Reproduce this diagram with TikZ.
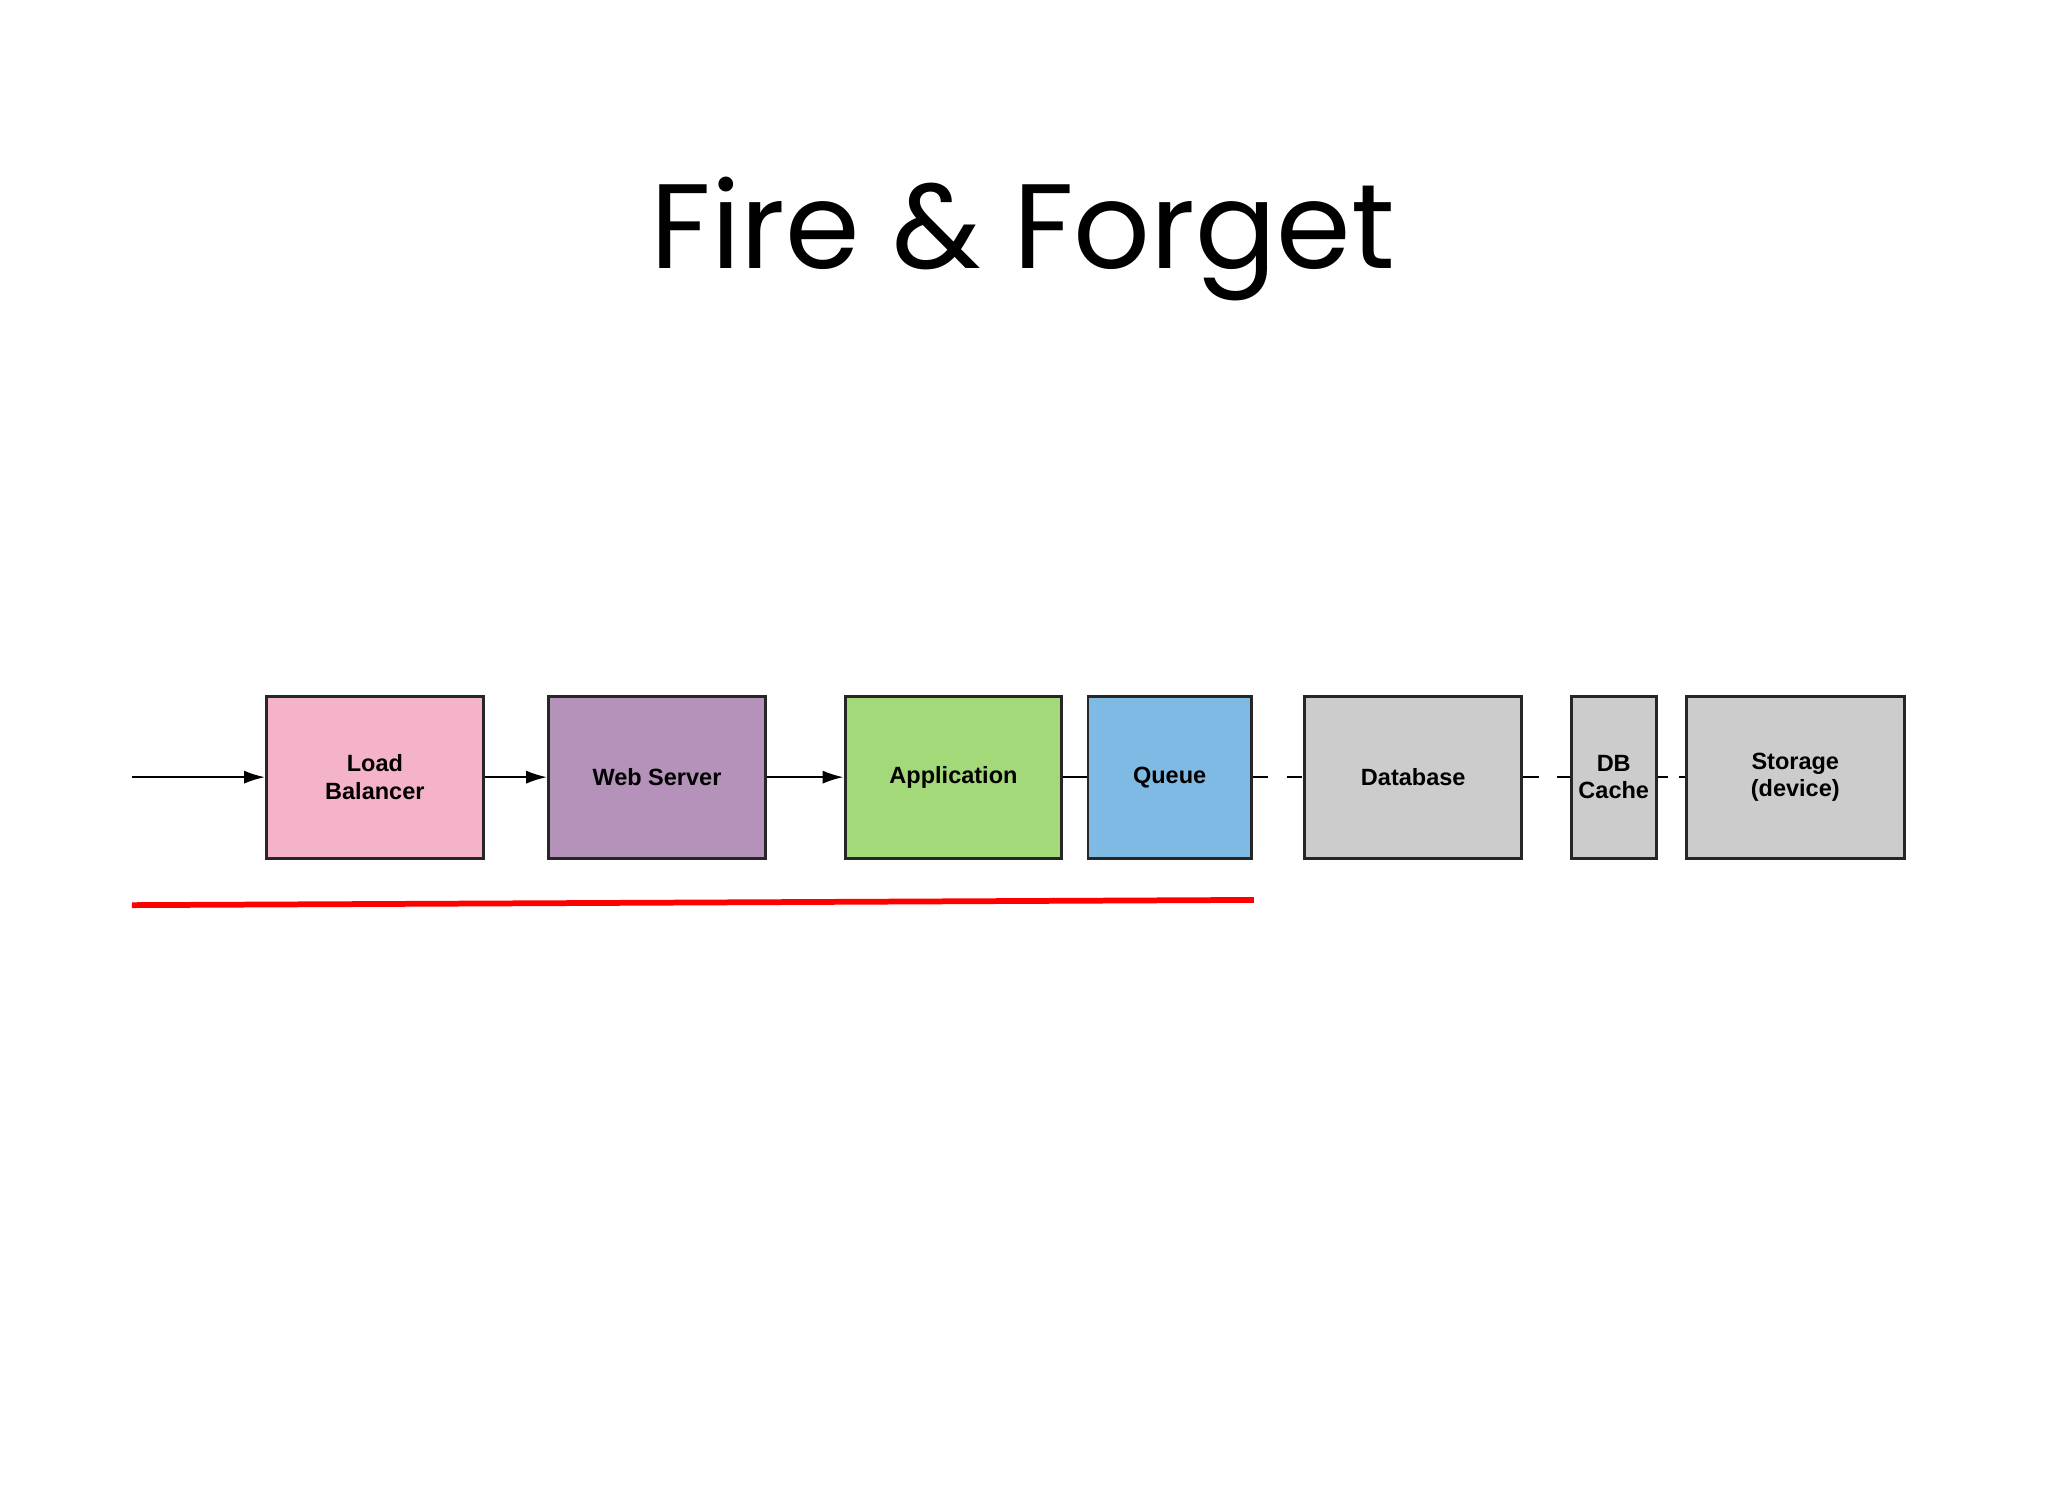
\documentclass[tikz,border=0pt]{standalone}
\usepackage{fontspec}
\setmainfont{Liberation Sans}
\newfontfamily\titlefont{Poppins}
\usetikzlibrary{arrows.meta}
\definecolor{cpink}{HTML}{F5B3CA}
\definecolor{cpurple}{HTML}{B492B9}
\definecolor{cgreen}{HTML}{A3D978}
\definecolor{cblue}{HTML}{7FBAE5}
\definecolor{cgray}{HTML}{CCCCCC}
\begin{document}
\begin{tikzpicture}[x=0.5pt,y=-0.5pt,
  box/.style={draw=black!85,line width=1.1pt,inner sep=0pt,font=\bfseries\fontsize{9}{10.5}\selectfont,align=center},
  conn/.style={line width=0.8pt},
  arr/.style={conn,-{Latex[length=8pt,width=5pt]}}]
\useasboundingbox (0,0) rectangle (1568,1144);
\node[font=\titlefont\fontsize{46}{50}\selectfont] (title) at (783,183) {Fire \& Forget};
\def\mk#1#2#3#4#5{\node[box,fill=#4,minimum width={(#3-#2)*0.5pt},minimum height=62pt] (#1) at ({(#2+#3)/2},595) {#5};}
\mk{lb}{204}{370}{cpink}{Load\\Balancer}
\mk{ws}{420}{586}{cpurple}{Web Server}
\mk{app}{647}{813}{cgreen}{Application}
\mk{q}{833}{958}{cblue}{Queue}
\mk{db}{999}{1165}{cgray}{Database}
\mk{dbc}{1203}{1268}{cgray}{DB\\Cache}
\mk{st}{1291}{1458}{cgray}{Storage\\(device)}
\coordinate (in) at (101,595);
\draw[arr] (in) -- (lb);
\draw[arr] (lb) -- (ws);
\draw[arr] (ws) -- (app);
\draw[conn] (app) -- (q);
\draw[conn,dash pattern=on 6pt off 7pt] (q) -- (db);
\draw[conn,dash pattern=on 6pt off 7pt] (db) -- (dbc);
\draw[conn,dash pattern=on 4pt off 4pt] (dbc) -- (st);
\coordinate (r1) at (101,693);
\coordinate (r2) at (960,689);
\draw[red,line width=2.2pt] (r1) -- (r2);
\end{tikzpicture}
\end{document}
